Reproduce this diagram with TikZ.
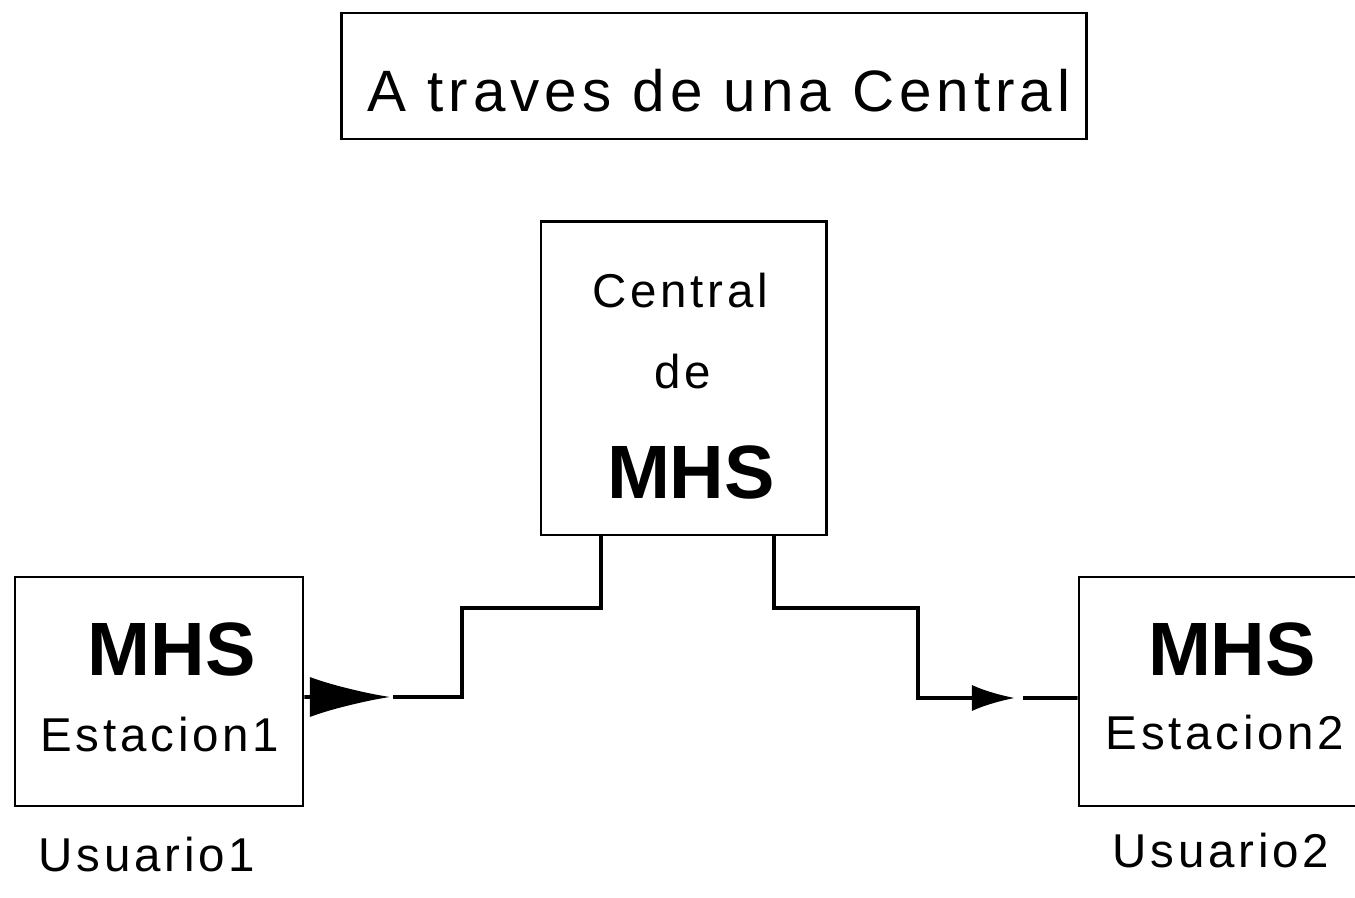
\documentclass[tikz,border=0pt]{standalone}
\usepackage{fontspec}
\setmainfont{Liberation Sans}
\newfontfamily\spacedfont[LetterSpace=8]{Liberation Sans}
\newfontfamily\titlefont[LetterSpace=8.5]{Liberation Sans}
\usetikzlibrary{arrows.meta,positioning,calc}

\begin{document}
\begin{tikzpicture}[
    x=0.01cm, y=-0.01cm,
    box/.style={rectangle, draw, line width=0.8pt, inner sep=0pt},
    label/.style={inner sep=0pt, font=\fontsize{13.5}{16}\selectfont\spacedfont},
    big/.style={inner sep=0pt, font=\fontsize{21.5}{24}\selectfont\bfseries},
    wire/.style={line width=1.1pt}
]
\useasboundingbox (0,0) rectangle (1355,898);

% titulo
\node[box, minimum width=7.44cm, minimum height=1.26cm] (titlebox) at (714,76) {};
\node[inner sep=0pt, font=\fontsize{16.6}{20}\selectfont\titlefont] (titletext) at (719,91) {A traves de una Central};

% central
\node[box, minimum width=2.85cm, minimum height=3.13cm] (central) at (683.5,378.5) {};
\node[label] (ctext) at (680,291) {Central};
\node[label] (cde)   at (683,372) {de};
\node[big]   (cmhs)  at (691,472) {MHS};

% estaciones
\node[box, minimum width=2.88cm, minimum height=2.29cm] (est1) at (159,691.5) {};
\node[big]   (mhs1) at (172,649) {MHS};
\node[label] (e1)   at (160,735) {Estacion1};
\node[label] (u1)   at (147,855) {Usuario1};

\node[box, minimum width=2.88cm, minimum height=2.29cm] (est2) at (1223,691.5) {};
\node[big]   (mhs2) at (1232,649) {MHS};
\node[label] (e2)   at (1225,733) {Estacion2};
\node[label] (u2)   at (1221,851) {Usuario2};

% conexiones
\coordinate (ltip) at (390,697);
\coordinate (lend) at (393,697);
\coordinate (lstep) at (462,608);
\coordinate (rstep) at (918,608);
\coordinate (rtip) at (1015,698);
\coordinate (rstart) at (1023,698);

\draw[wire, -{Latex[length=0.8cm,width=0.4cm]}] ([yshift=-0.055cm]est1.east) -- (ltip);
\draw[wire] ([xshift=-0.825cm]central.south) |- (lstep) |- (lend);
\draw[wire, -{Latex[length=0.43cm,width=0.26cm]}] ([xshift=0.905cm]central.south) |- (rstep) |- (rtip);
\draw[wire] (rstart) -- ([yshift=-0.065cm]est2.west);
\end{tikzpicture}
\end{document}
